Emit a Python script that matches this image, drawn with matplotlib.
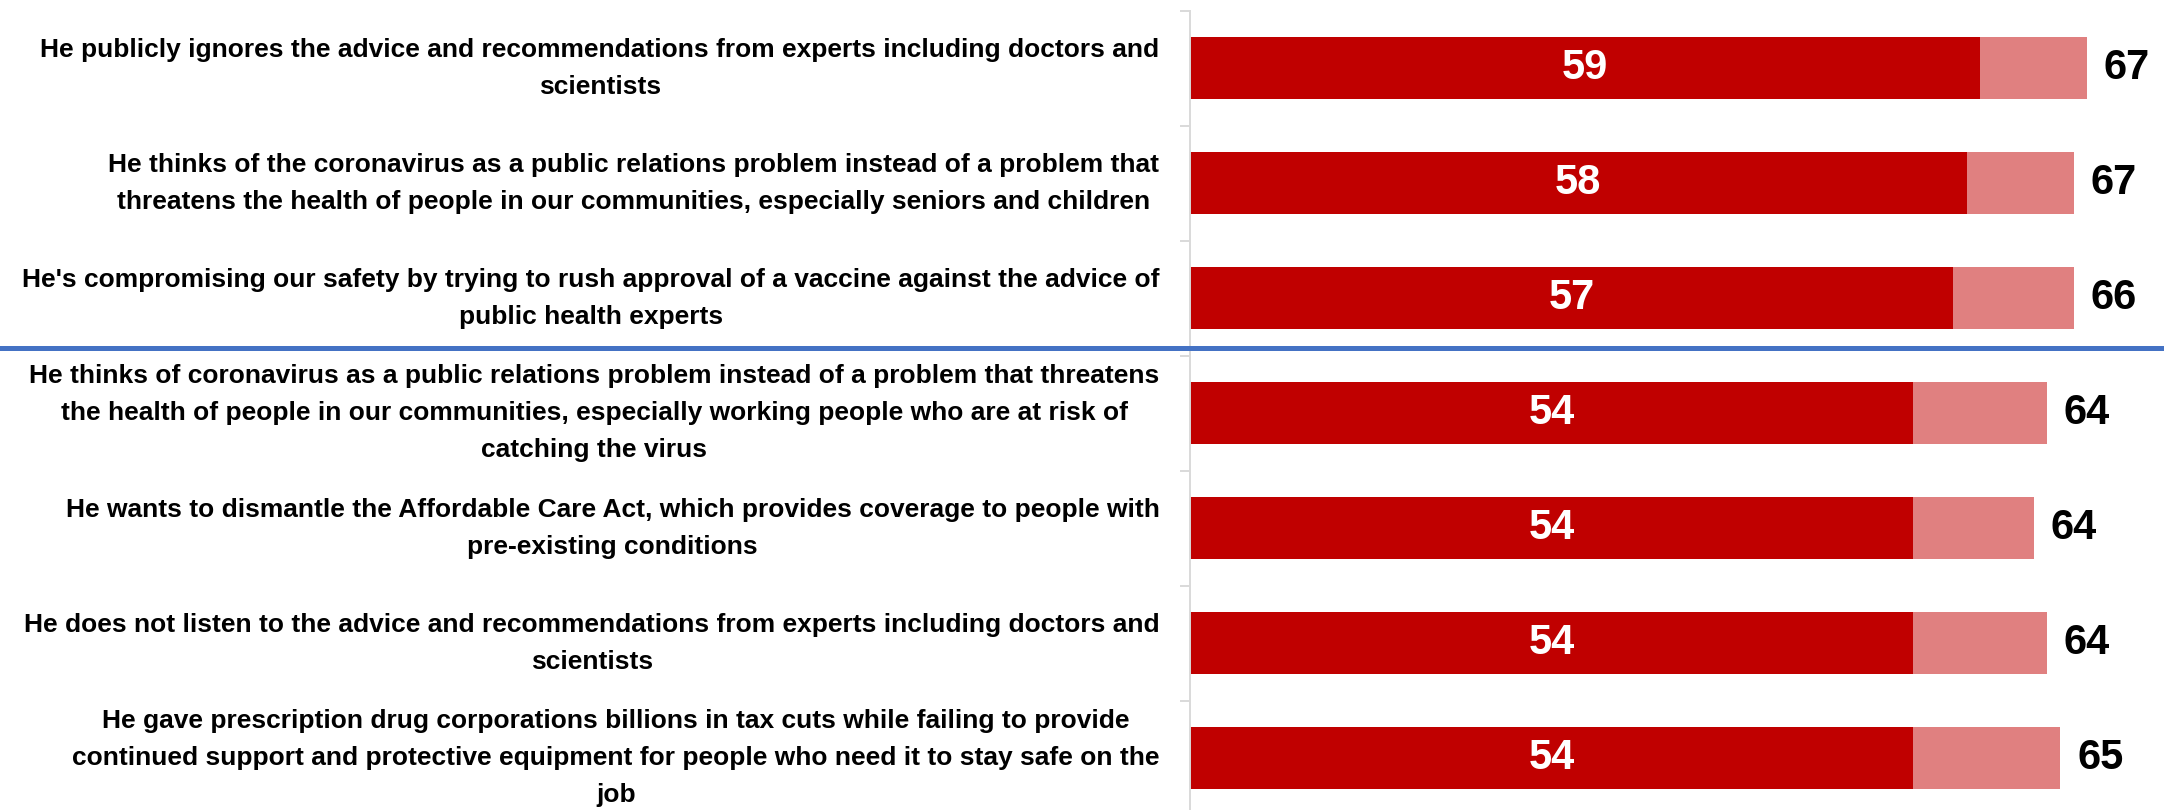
#horizontal stacked bar chart of the criticisms tested, strong vs total agreement

import matplotlib.pyplot as plt
from matplotlib.lines import Line2D
from matplotlib.ticker import FixedLocator

statements = [
    "He publicly ignores the advice and recommendations from experts including doctors and\nscientists",
    "He thinks of the coronavirus as a public relations problem instead of a problem that\nthreatens the health of people in our communities, especially seniors and children",
    "He's compromising our safety by trying to rush approval of a vaccine against the advice of\npublic health experts",
    "He thinks of coronavirus as a public relations problem instead of a problem that threatens\nthe health of people in our communities, especially working people who are at risk of\ncatching the virus",
    "He wants to dismantle the Affordable Care Act, which provides coverage to people with\npre-existing conditions",
    "He does not listen to the advice and recommendations from experts including doctors and\nscientists",
    "He gave prescription drug corporations billions in tax cuts while failing to provide\ncontinued support and protective equipment for people who need it to stay safe on the\njob",
]
strong = [59, 58, 57, 54, 54, 54, 54]
somewhat = [8, 8, 9, 10, 9, 10, 11]
total_labels = [67, 67, 66, 64, 64, 64, 65]

plt.rcParams['font.family'] = ['Liberation Sans', 'DejaVu Sans']
plt.rcParams['font.weight'] = 'bold'

fig = plt.figure(figsize=(21.64, 8.10), dpi=100)
# axes starts right at the vertical axis line, bottom slot runs a bit off the figure
ax = fig.add_axes([1190 / 2164, -5.7 / 810, 974 / 2164, 805 / 810])

y = list(range(len(statements)))
ax.barh(y, strong, height=0.54, color='#C00000')
ax.barh(y, somewhat, left=strong, height=0.54, color='#E08080')

for k in range(len(statements)):
    ax.text(strong[k] / 2, y[k], str(strong[k]), color='white', fontsize=30,
            fontweight='bold', ha='center', va='center')
    ax.annotate(str(total_labels[k]), xy=(strong[k] + somewhat[k], y[k]),
                xytext=(12, 0), textcoords='offset points', fontsize=30,
                fontweight='bold', ha='left', va='center', color='black')

ax.set_xlim(0, 974 / 13.39)
ax.set_ylim(len(statements) - 0.5, -0.5)

ax.set_yticks(y)
ax.set_yticklabels(statements, fontsize=19, fontweight='bold', linespacing=1.68)
for lbl in ax.get_yticklabels():
    lbl.set_multialignment('center')
    lbl.set_verticalalignment('center')
ax.tick_params(axis='y', which='major', length=0, pad=22)
ax.yaxis.set_minor_locator(FixedLocator([k + 0.5 for k in range(-1, len(statements))]))
ax.tick_params(axis='y', which='minor', length=7, width=1.4, color='#D9D9D9')

ax.set_xticks([])
for side in ['top', 'right', 'bottom']:
    ax.spines[side].set_visible(False)
ax.spines['left'].set_color('#D9D9D9')
ax.spines['left'].set_linewidth(1.4)

# blue separator line across the whole figure
fig.add_artist(Line2D([0, 1], [1 - 347.7 / 810, 1 - 347.7 / 810],
                      transform=fig.transFigure, color='#4472C4', linewidth=3.6))

plt.savefig('out.png', dpi=100)
plt.close()
